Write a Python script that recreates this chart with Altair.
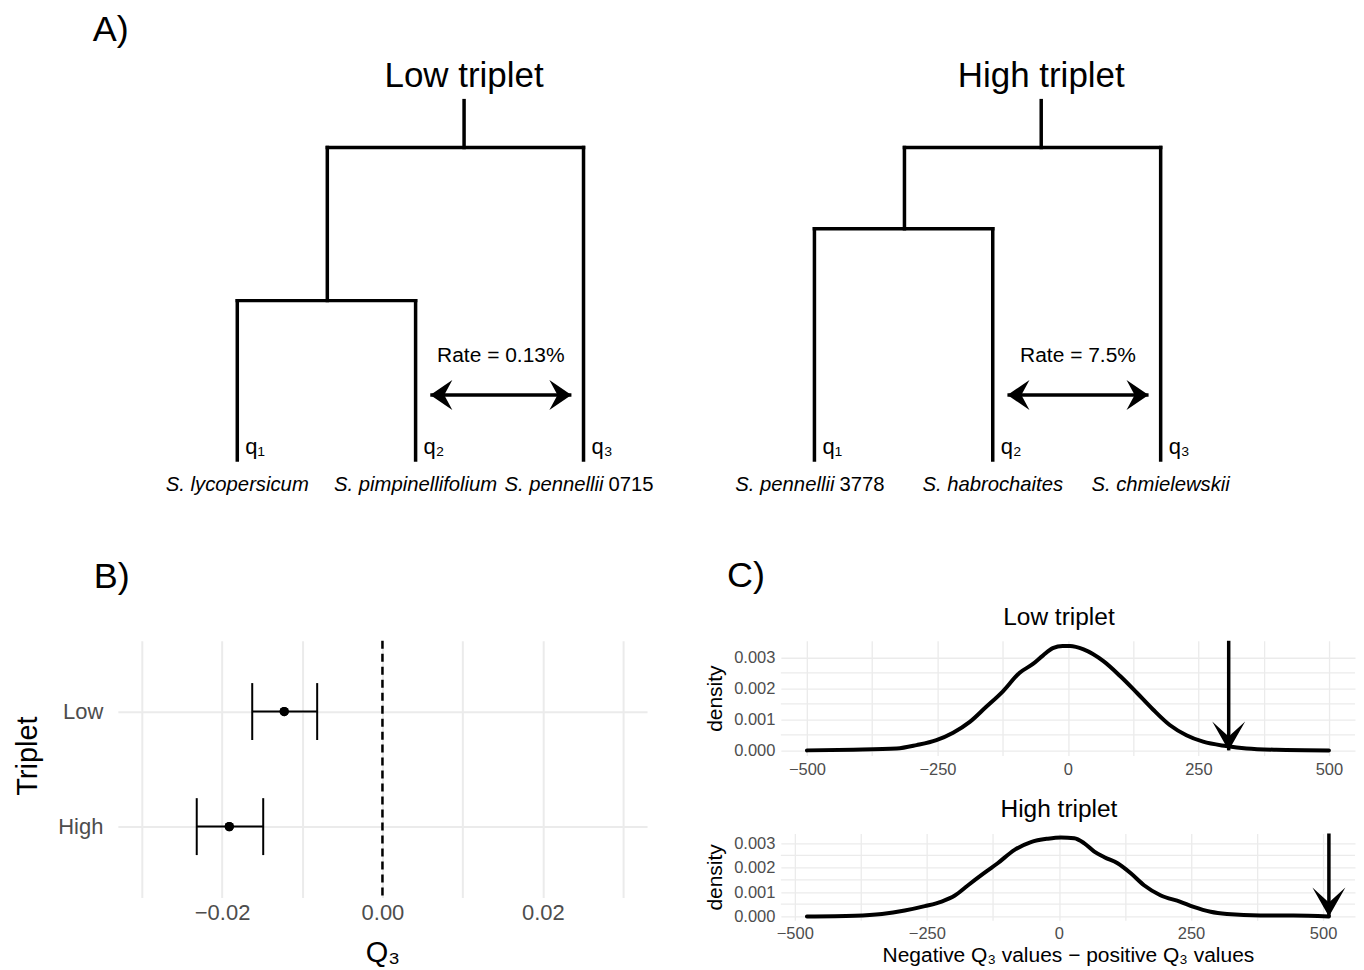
import altair as alt
import pandas as pd

FONT = "Liberation Sans"

# ---------------- Panel A: dendrograms ----------------
leaf_x = [1.0, 2.03, 3.0]
node_x = 1.52
root_x = 2.31
root_h = 1.0
stem_top = 1.15
node_h_low = 0.51
node_h_high = 0.74
leaf_tags = ["q\u2081", "q\u2082", "q\u2083"]
species_low = ["S. lycopersicum", "S. pimpinellifolium", "S. pennellii"]
suffix_low = ["", "", "0715"]
species_high = ["S. pennellii", "S. habrochaites", "S. chmielewskii"]
suffix_high = ["3778", "", ""]
rate_low = "Rate = 0.13%"
rate_high = "Rate = 7.5%"
arrow_x = [2.115, 2.93]
arrow_h = 0.208
rate_h = 0.332

# ---------------- Panel B: Q3 estimates ----------------
triplet = ["Low", "High"]
q3_mean = [-0.01225, -0.0191]
q3_lo = [-0.01624, -0.02316]
q3_hi = [-0.00814, -0.01487]
b_limits = [-0.03, 0.03]
b_ticks = [-0.03, -0.02, -0.01, 0.0, 0.01, 0.02, 0.03]

# ---------------- Panel C: null densities ----------------
low_x = [-500, -411, -328, -290, -252, -220, -188, -157, -125, -93, -67, -48, -29, -10, 4,
         30, 68, 100, 132, 163, 195, 227, 259, 303, 342, 399, 500]
low_d = [0.0, 0.00002, 0.00006, 0.00017, 0.00033, 0.00057, 0.00092, 0.0014, 0.0019, 0.0025,
         0.00279, 0.00306, 0.0033, 0.00337, 0.00337, 0.00326, 0.00288, 0.0024, 0.00186,
         0.00132, 0.00082, 0.00049, 0.00028, 0.00014, 0.00006, 0.00002, 0.0]
high_x = [-477, -386, -335, -292, -254, -222, -197, -172, -147, -116, -84, -53, -21, 4, 29,
          48, 67, 86, 111, 136, 161, 192, 230, 255, 287, 318, 381, 444, 511]
high_d = [0.0, 0.00003, 0.0001, 0.00024, 0.00042, 0.00061, 0.00086, 0.00128, 0.00169, 0.00218,
          0.00273, 0.00305, 0.00319, 0.00324, 0.00321, 0.003, 0.00266, 0.00243, 0.00218,
          0.00177, 0.00128, 0.00087, 0.0006, 0.00039, 0.00019, 0.0001, 0.00004, 0.00004, 0.0]
obs_low = 308
obs_high = 511
c_xticks = [-500, -375, -250, -125, 0, 125, 250, 375, 500]
c_ymajor = [0.0, 0.001, 0.002, 0.003]
c_yminor = [0.0005, 0.0015, 0.0025]

# arrowhead shapes (tip at origin)
LEFT_HEAD = "M0,0L1.47,-1L0.93,0L1.47,1Z"
RIGHT_HEAD = "M0,0L-1.47,-1L-0.93,0L-1.47,1Z"
DOWN_HEAD = "M0,0L-1,-1.76L0,-0.85L1,-1.76Z"

GRID = "#EBEBEB"
LABEL = "#4D4D4D"

# ---------------- tree builder ----------------
TX = alt.Scale(domain=[0.31, 3.54], nice=False, zero=False)
TY = alt.Scale(domain=[-0.128, 1.294], nice=False, zero=False)


def tree_chart(name, nh, species, suffix, rate, title=None):
    seg = pd.DataFrame({
        "x": [root_x, node_x, node_x, leaf_x[0], leaf_x[0], leaf_x[1], leaf_x[2]],
        "y": [root_h, root_h, nh, nh, 0, 0, 0],
        "x2": [root_x, leaf_x[2], node_x, leaf_x[1], leaf_x[0], leaf_x[1], leaf_x[2]],
        "y2": [stem_top, root_h, root_h, nh, nh, nh, root_h],
    })
    X = alt.X("x:Q", scale=TX, axis=None)
    Y = alt.Y("y:Q", scale=TY, axis=None)
    branches = alt.Chart(seg).mark_rule(color="black", strokeWidth=3.5, strokeCap="square").encode(
        x=X, y=Y, x2="x2:Q", y2="y2:Q")
    leaves = pd.DataFrame({"x": leaf_x, "y": [0, 0, 0], "tag": leaf_tags,
                           "sp": species, "suf": suffix})
    tags = alt.Chart(leaves).mark_text(align="left", baseline="middle", dx=8, dy=-13,
                                       fontSize=22, font=FONT).encode(x=X, y=Y, text="tag:N")
    sp_full = alt.Chart(leaves).transform_filter("datum.suf == ''").mark_text(
        align="center", baseline="middle", dy=25, fontSize=20.3, fontStyle="italic",
        font=FONT).encode(x=X, y=Y, text="sp:N")
    sp_part = alt.Chart(leaves).transform_filter("datum.suf != ''").mark_text(
        align="right", baseline="middle", dy=25, dx=20, fontSize=20.3, fontStyle="italic",
        font=FONT).encode(x=X, y=Y, text="sp:N")
    sp_suf = alt.Chart(leaves).transform_filter("datum.suf != ''").mark_text(
        align="left", baseline="middle", dy=25, dx=25, fontSize=20.3,
        font=FONT).encode(x=X, y=Y, text="suf:N")
    head = pd.DataFrame({"x": [root_x], "y": [stem_top], "t": [name]})
    name_txt = alt.Chart(head).mark_text(baseline="alphabetic", dy=-14, fontSize=35,
                                         font=FONT).encode(x=X, y=Y, text="t:N")
    rt = pd.DataFrame({"x": [(arrow_x[0] + arrow_x[1]) / 2], "y": [rate_h], "t": [rate]})
    rate_txt = alt.Chart(rt).mark_text(baseline="middle", fontSize=21, font=FONT).encode(
        x=X, y=Y, text="t:N")
    ar = pd.DataFrame({"x": [arrow_x[0]], "x2": [arrow_x[1]], "y": [arrow_h]})
    shaft = alt.Chart(ar).mark_rule(color="black", strokeWidth=3.5).encode(x=X, x2="x2:Q", y=Y)
    hl = pd.DataFrame({"x": [arrow_x[0]], "y": [arrow_h]})
    hr = pd.DataFrame({"x": [arrow_x[1]], "y": [arrow_h]})
    headL = alt.Chart(hl).mark_point(shape=LEFT_HEAD, size=900, filled=True, color="black",
                                     opacity=1).encode(x=X, y=Y)
    headR = alt.Chart(hr).mark_point(shape=RIGHT_HEAD, size=900, filled=True, color="black",
                                     opacity=1).encode(x=X, y=Y)
    ch = alt.layer(branches, tags, sp_full, sp_part, sp_suf, name_txt, rate_txt, shaft,
                   headL, headR)
    props = dict(width=560, height=445)
    if title is not None:
        props["title"] = title
    return ch.properties(**props)


treeL = tree_chart("Low triplet", node_h_low, species_low, suffix_low, rate_low,
                   title=alt.TitleParams("A)", anchor="start", frame="group", fontSize=36,
                                         fontWeight="normal", baseline="alphabetic",
                                         offset=-21, dx=-25, font=FONT))
treeR = tree_chart("High triplet", node_h_high, species_high, suffix_high, rate_high)

# ---------------- Panel B ----------------
dfb = pd.DataFrame({"Triplet": triplet, "mean": q3_mean, "lo": q3_lo, "hi": q3_hi})
pad_b = 0.05 * (b_limits[1] - b_limits[0])
BX = alt.Scale(domain=[b_limits[0] - pad_b, b_limits[1] + pad_b], nice=False, zero=False)
BY = alt.Scale(type="point", domain=triplet, padding=0.615)
xb = alt.X("mean:Q", scale=BX, axis=alt.Axis(
    values=b_ticks, format=".2f", labelExpr="round(datum.value*100) % 2 == 0 ? datum.label : ''",
    title="Q\u2083", titleFontSize=29, labelFontSize=22, labelPadding=5, titlePadding=15,
    gridWidth=2, labelOverlap=False))
yb = alt.Y("Triplet:N", scale=BY, sort=triplet, axis=alt.Axis(
    title="Triplet", titleFontSize=29, labelFontSize=22, labelPadding=15, titlePadding=15,
    grid=True, gridWidth=2, titleY=115))
base_b = alt.Chart(dfb)
zero_line = alt.Chart(pd.DataFrame({"v": [0.0]})).mark_rule(
    color="black", strokeWidth=2.5, strokeDash=[8, 5]).encode(x=alt.X("v:Q", scale=BX))
bar = base_b.mark_rule(color="black", strokeWidth=2).encode(
    x=alt.X("lo:Q", scale=BX), x2="hi:Q", y=yb)
cap_lo = base_b.mark_tick(color="black", thickness=2, size=57, orient="vertical", opacity=1).encode(
    x=alt.X("lo:Q", scale=BX), y=yb)
cap_hi = base_b.mark_tick(color="black", thickness=2, size=57, orient="vertical", opacity=1).encode(
    x=alt.X("hi:Q", scale=BX), y=yb)
pts = base_b.mark_circle(color="black", size=85, opacity=1).encode(x=xb, y=yb)
panelB = alt.layer(pts, zero_line, bar, cap_lo, cap_hi, pts).properties(
    width=530, height=257,
    title=alt.TitleParams("B)", anchor="start", frame="group", fontSize=36, fontWeight="normal",
                          baseline="alphabetic", offset=16, dx=-24, font=FONT))


# ---------------- Panel C ----------------
def dens_chart(xs, ds, obs, title, xtitle, height, toff):
    lo_x = min(min(xs), obs)
    hi_x = max(max(xs), obs)
    px = 0.05 * (hi_x - lo_x)
    py = 0.05 * max(ds)
    ymax = max(ds) + py
    SX = alt.Scale(domain=[lo_x - px, hi_x + px], nice=False, zero=False)
    SY = alt.Scale(domain=[-py, ymax], nice=False, zero=False)
    lab = "datum.value % 250 == 0 ? datum.label : ''"
    if xtitle is None:
        xax = alt.Axis(values=c_xticks, labelExpr=lab, labelFontSize=16.5, labelPadding=6,
                       title=None, gridWidth=1.3, labelFlush=False, labelOverlap=False)
    else:
        xax = alt.Axis(values=c_xticks, labelExpr=lab, labelFontSize=16.5, labelPadding=5,
                       title=xtitle, titleFontSize=21, titlePadding=3, gridWidth=1.3,
                       labelFlush=False, labelOverlap=False)
    yax = alt.Axis(values=c_ymajor, format=".3f", tickCount=4,
                   labelFontSize=16.5, labelPadding=6, title="density", titleFontSize=21,
                   titlePadding=8, gridWidth=1.3, labelOverlap=False, labelFlush=False)
    minor = alt.Chart(pd.DataFrame({"m": c_yminor})).mark_rule(
        color=GRID, strokeWidth=1.3).encode(y=alt.Y("m:Q", scale=SY, axis=yax))
    df = pd.DataFrame({"x": xs, "d": ds})
    line = alt.Chart(df).mark_line(color="black", strokeWidth=4, interpolate="monotone",
                                   strokeCap="round", strokeJoin="round").encode(
        x=alt.X("x:Q", scale=SX, axis=xax),
        y=alt.Y("d:Q", scale=SY, axis=yax))
    ad = pd.DataFrame({"x": [obs], "top": [ymax], "bot": [0.0]})
    shaft = alt.Chart(ad).mark_rule(color="black", strokeWidth=3.5).encode(
        x=alt.X("x:Q", scale=SX, axis=xax), y=alt.Y("top:Q", scale=SY, axis=yax), y2="bot:Q")
    head = alt.Chart(ad).mark_point(shape=DOWN_HEAD, size=1089, filled=True, color="black",
                                    opacity=1).encode(
        x=alt.X("x:Q", scale=SX, axis=xax), y=alt.Y("bot:Q", scale=SY, axis=yax))
    return alt.layer(minor, line, shaft, head).properties(
        width=575, height=height,
        title=alt.TitleParams(title, anchor="middle", frame="group", fontSize=24.5,
                              fontWeight="normal", baseline="alphabetic", offset=toff, dx=-9,
                              font=FONT))


densL = dens_chart(low_x, low_d, obs_low, "Low triplet", None, 115, -10.5)
densH = dens_chart(high_x, high_d, obs_high, "High triplet",
                   "Negative Q\u2083 values \u2212 positive Q\u2083 values", 87, -9.5)

colC = alt.vconcat(densL, densH, spacing=78, bounds="flush",
                   title=alt.TitleParams("C)", anchor="start", frame="group", fontSize=36,
                                         fontWeight="normal", baseline="alphabetic",
                                         offset=-17.6, dx=-54, font=FONT))

row1 = alt.hconcat(treeL, treeR, spacing=18, bounds="flush")
row2 = alt.hconcat(panelB, colC, spacing=134, bounds="flush")

chart = alt.vconcat(row1, row2, spacing=57).properties(
    padding={"left": 5, "top": 3, "right": 0, "bottom": 0}
).configure(font=FONT).configure_view(stroke=None).configure_axis(
    domain=False, ticks=False, tickSize=0, gridColor=GRID, labelColor=LABEL,
    labelFont=FONT, titleFont=FONT, titleFontWeight="normal", titleColor="black"
).configure_title(font=FONT, fontWeight="normal", color="black")

chart.save("out.html", embed_options={"renderer": "svg", "actions": False})
